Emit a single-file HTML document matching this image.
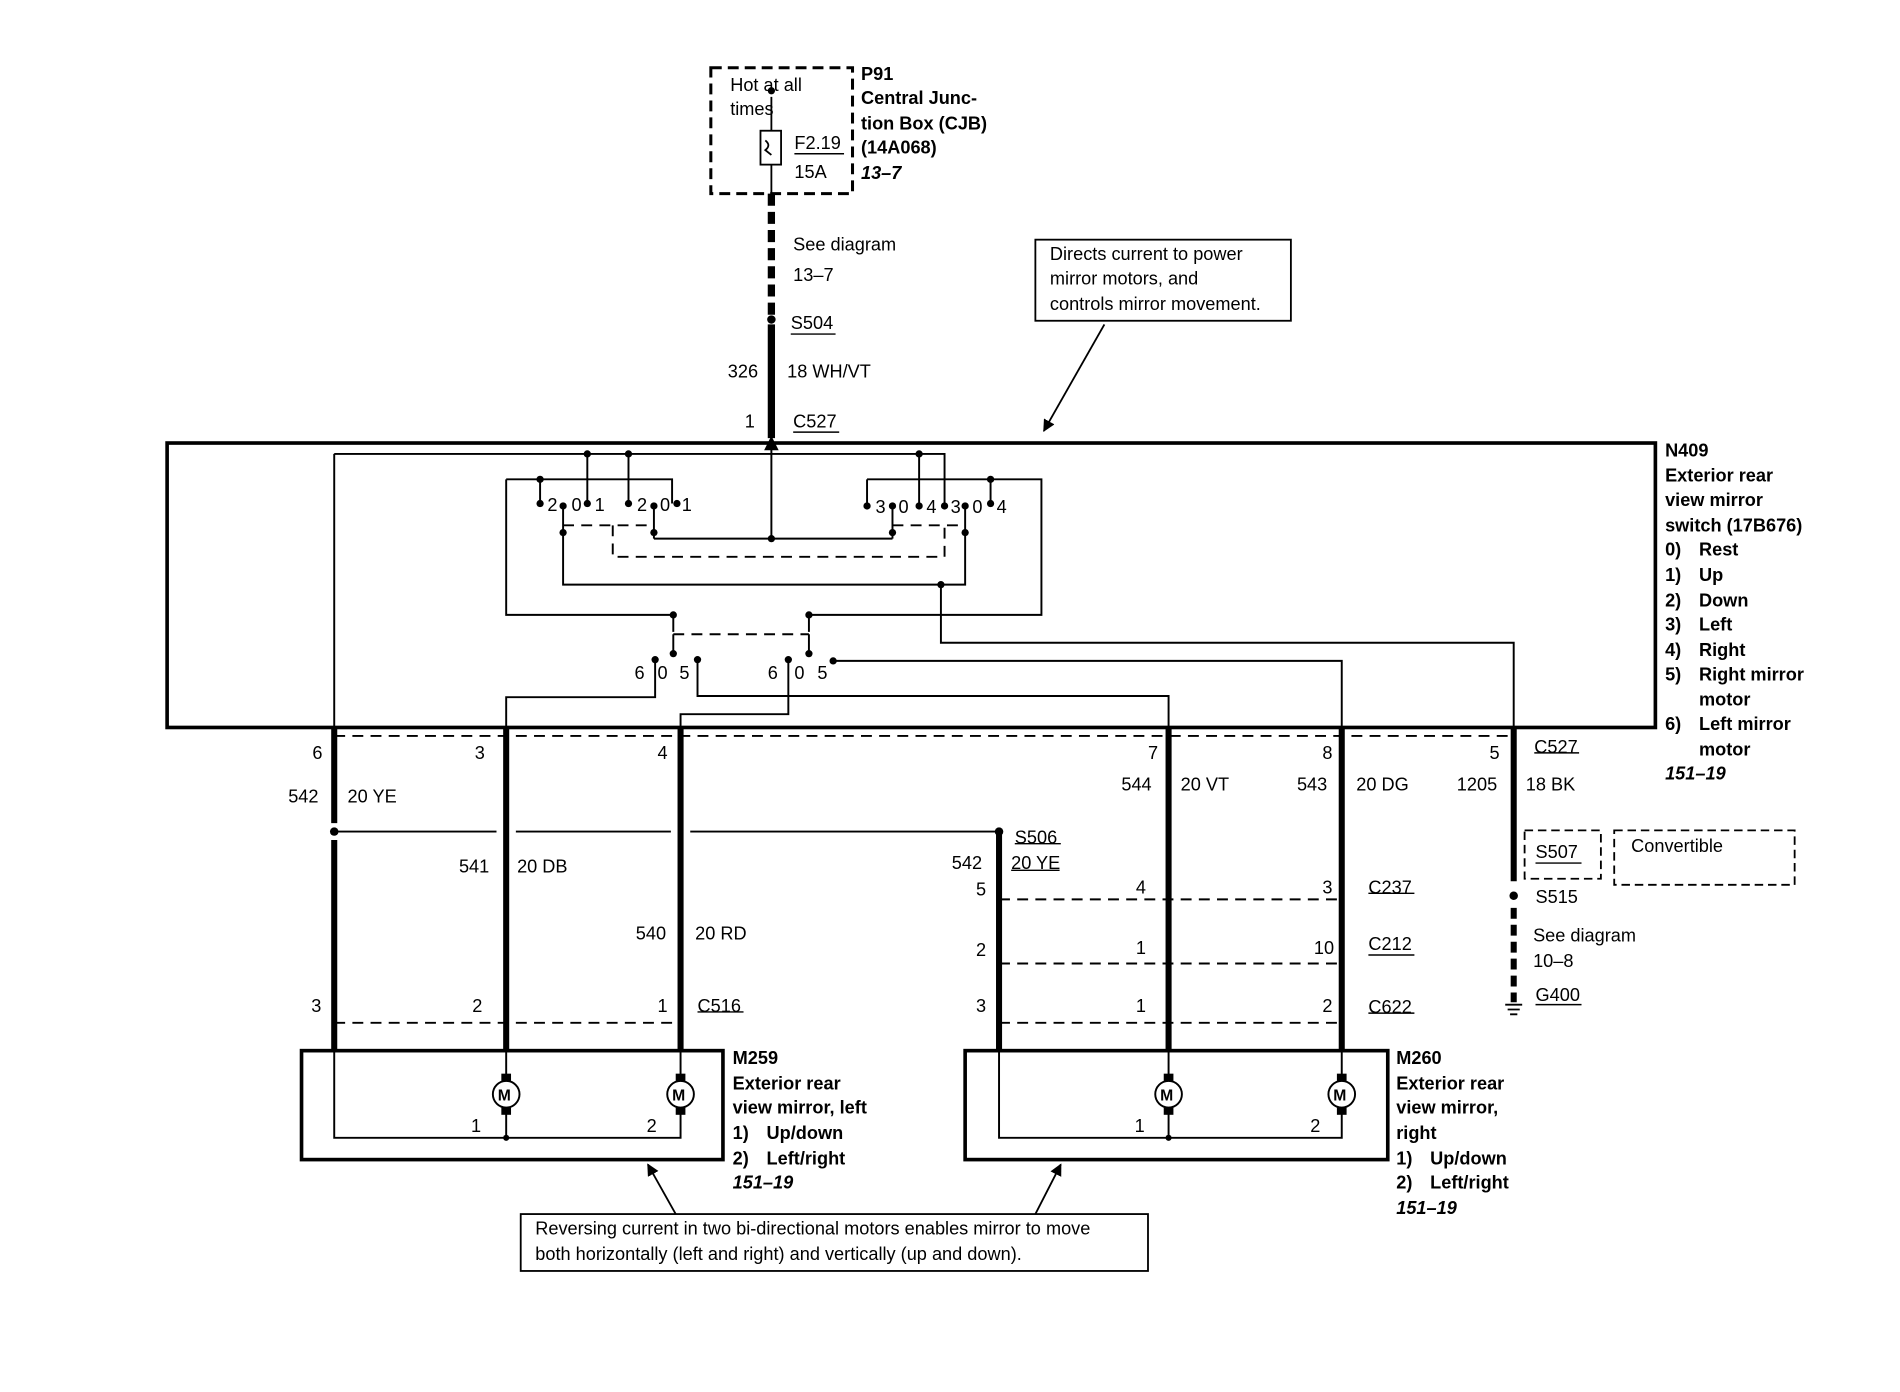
<!DOCTYPE html>
<html><head><meta charset="utf-8"><style>
html,body{margin:0;padding:0;background:#fff;}
svg{display:block;}
text{font-family:"Liberation Sans",Arial,sans-serif;font-size:15px;fill:#000;}
.b{font-weight:bold;}
.i{font-style:italic;font-weight:bold;}
</style></head><body>
<svg width="1900" height="1392" viewBox="0 0 1569 1150" preserveAspectRatio="none" xmlns="http://www.w3.org/2000/svg">
<defs>
<marker id="ah" markerWidth="10" markerHeight="10" refX="9" refY="5" orient="auto" markerUnits="userSpaceOnUse"><path d="M0,0 L10,5 L0,10 Z" fill="#000"/></marker>
</defs>
<g stroke="#000" fill="none">
<rect x="587" y="56" width="117" height="104" stroke-width="2.5" stroke-dasharray="9,5"/>
<rect x="628" y="108" width="17" height="28" stroke-width="1.5"/>
<path d="M637,80 V108 M637,136 V160 M632,116 q5,4 0,8 q5,4 5,4" stroke-width="1.5"/>
<path d="M637,160 V262" stroke-width="6" stroke-dasharray="10,5"/>
<path d="M637,268 V362" stroke-width="6"/>
<rect x="855" y="198" width="211" height="67" stroke-width="1.5"/>
<line x1="912" y1="268" x2="862" y2="356" stroke-width="1.5" marker-end="url(#ah)"/>
<rect x="138" y="366" width="1229" height="235" stroke-width="3"/>
<g stroke-width="1.6">
<path d="M276,375 H780 V418"/>
<path d="M485,375 V416 M519,375 V416 M759,375 V416"/>
<path d="M418,396 H555 V416 M446,396 V416 M418,396 V508 H556 V522"/>
<path d="M716,396 H860 V508 H668 V522 M716,396 V416 M818,396 V416"/>
<path d="M637,366 V445 M540,445 H737 M540,420 V445 M737,420 V445"/>
<path d="M465,420 V483 H797 V420"/>
<path d="M777,483 V531 H1250 V601"/>
<path d="M556,524 V540 M668,524 V540"/>
<path d="M541,545 V576 H418 V601"/>
<path d="M576,545 V575 H965 V601"/>
<path d="M651,545 V590 H562 V601"/>
<path d="M688,546 H1108 V601"/>
<path d="M276,375 V601"/>
</g>
<g stroke-width="1.6" stroke-dasharray="9,6">
<path d="M465,434 H540 M506,434 V460 H780 V434 M737,434 H797"/>
<path d="M556,524 H668"/>
<path d="M276,608 H1250"/>
<path d="M825,743 H1108 M825,796 H1108 M825,845 H1108 M276,845 H562"/>
</g>
<g stroke-width="5">
<path d="M276,601 V680 M276,694 V845 M418,601 V868 M562,601 V868 M965,601 V868 M1108,601 V868 M825,687 V868 M276,845 V868 M1250,601 V728"/>
<path d="M1250,750 V828" stroke-dasharray="9,5"/>
</g>
<path d="M276,687 H410 M426,687 H554 M570,687 H825" stroke-width="1.6"/>
<path d="M1243,830 H1257 M1245,834 H1255 M1247,838 H1253" stroke-width="1.5"/>
<rect x="249" y="868" width="348" height="90" stroke-width="3"/>
<rect x="797" y="868" width="349" height="90" stroke-width="3"/>
<g stroke-width="1.6">
<path d="M276,868 V940 H562 V916 M418,868 V893 M418,916 V940 M562,868 V893"/>
<path d="M825,868 V940 H1108 V916 M965,868 V893 M965,916 V940 M1108,868 V893"/>
<circle cx="418" cy="904" r="11"/><circle cx="562" cy="904" r="11"/>
<circle cx="965" cy="904" r="11"/><circle cx="1108" cy="904" r="11"/>
</g>
<rect x="430" y="1003" width="518" height="47" stroke-width="1.5"/>
<line x1="558" y1="1003" x2="535" y2="962" stroke-width="1.5" marker-end="url(#ah)"/>
<line x1="855" y1="1003" x2="876" y2="962" stroke-width="1.5" marker-end="url(#ah)"/>
<rect x="1259" y="686" width="63" height="40" stroke-width="1.5" stroke-dasharray="7,4"/>
<rect x="1333" y="686" width="149" height="45" stroke-width="1.5" stroke-dasharray="7,4"/>
<g stroke-width="1.2">
<path d="M656,127 H697 M653,276 H690 M655,357 H693 M1267,622 H1304 M838,697 H876 M835,719 H875 M1268,713 H1306 M1268,830 H1306 M576,836 H614 M1130,738 H1168 M1130,789 H1168 M1130,837 H1168"/>
</g>
</g>
<g fill="#000">
<rect x="414" y="887" width="8" height="6"/><rect x="414" y="915" width="8" height="6"/>
<rect x="558" y="887" width="8" height="6"/><rect x="558" y="915" width="8" height="6"/>
<rect x="961" y="887" width="8" height="6"/><rect x="961" y="915" width="8" height="6"/>
<rect x="1104" y="887" width="8" height="6"/><rect x="1104" y="915" width="8" height="6"/>
<circle cx="637" cy="75" r="3"/><circle cx="637" cy="264" r="3.5"/>
<circle cx="485" cy="375" r="3"/><circle cx="519" cy="375" r="3"/><circle cx="759" cy="375" r="3"/>
<circle cx="446" cy="396" r="3"/><circle cx="818" cy="396" r="3"/>
<circle cx="446" cy="416" r="3"/><circle cx="465" cy="418" r="3"/><circle cx="485" cy="416" r="3"/><circle cx="519" cy="416" r="3"/><circle cx="540" cy="418" r="3"/><circle cx="559" cy="416" r="3"/>
<circle cx="716" cy="418" r="3"/><circle cx="737" cy="418" r="3"/><circle cx="759" cy="418" r="3"/><circle cx="780" cy="418" r="3"/><circle cx="797" cy="418" r="3"/><circle cx="818" cy="416" r="3"/>
<circle cx="465" cy="440" r="3"/><circle cx="540" cy="440" r="3"/><circle cx="637" cy="445" r="3"/><circle cx="737" cy="440" r="3"/><circle cx="797" cy="440" r="3"/>
<circle cx="777" cy="483" r="3"/>
<circle cx="556" cy="508" r="3"/><circle cx="668" cy="508" r="3"/>
<circle cx="556" cy="540" r="3"/><circle cx="668" cy="540" r="3"/>
<circle cx="541" cy="545" r="3"/><circle cx="576" cy="545" r="3"/><circle cx="651" cy="545" r="3"/><circle cx="688" cy="546" r="3"/>
<circle cx="276" cy="687" r="3.5"/><circle cx="825" cy="687" r="3.5"/>
<circle cx="1250" cy="740" r="3.5"/>
<circle cx="418" cy="940" r="2.5"/><circle cx="965" cy="940" r="2.5"/>
<path d="M631,372 L637,360 L643,372 Z"/>
</g>
<text x="603" y="75">Hot at all</text><text x="603" y="95">times</text>
<text x="656" y="123">F2.19</text><text x="656" y="147">15A</text>
<text class="b" x="711" y="66">P91</text><text class="b" x="711" y="86">Central Junc-</text>
<text class="b" x="711" y="107">tion Box (CJB)</text><text class="b" x="711" y="127">(14A068)</text>
<text class="i" x="711" y="148">13–7</text>
<text x="655" y="207">See diagram</text><text x="655" y="232">13–7</text>
<text x="653" y="272">S504</text>
<text x="601" y="312">326</text><text x="650" y="312">18 WH/VT</text>
<text x="615" y="353">1</text><text x="655" y="353">C527</text>
<text x="867" y="215">Directs current to power</text>
<text x="867" y="235">mirror motors, and</text>
<text x="867" y="256">controls mirror movement.</text>
<text class="b" x="1375" y="377">N409</text>
<text class="b" x="1375" y="398">Exterior rear</text>
<text class="b" x="1375" y="418">view mirror</text>
<text class="b" x="1375" y="439">switch (17B676)</text>
<text class="b" x="1375" y="459">0)</text><text class="b" x="1403" y="459">Rest</text>
<text class="b" x="1375" y="480">1)</text><text class="b" x="1403" y="480">Up</text>
<text class="b" x="1375" y="501">2)</text><text class="b" x="1403" y="501">Down</text>
<text class="b" x="1375" y="521">3)</text><text class="b" x="1403" y="521">Left</text>
<text class="b" x="1375" y="542">4)</text><text class="b" x="1403" y="542">Right</text>
<text class="b" x="1375" y="562">5)</text><text class="b" x="1403" y="562">Right mirror</text>
<text class="b" x="1403" y="583">motor</text>
<text class="b" x="1375" y="603">6)</text><text class="b" x="1403" y="603">Left mirror</text>
<text class="b" x="1403" y="624">motor</text>
<text class="i" x="1375" y="644">151–19</text>
<text x="452" y="422">2</text><text x="472" y="422">0</text><text x="491" y="422">1</text>
<text x="526" y="422">2</text><text x="545" y="422">0</text><text x="563" y="422">1</text>
<text x="723" y="424">3</text><text x="742" y="424">0</text><text x="765" y="424">4</text>
<text x="785" y="424">3</text><text x="803" y="424">0</text><text x="823" y="424">4</text>
<text x="524" y="561">6</text><text x="543" y="561">0</text><text x="561" y="561">5</text>
<text x="634" y="561">6</text><text x="656" y="561">0</text><text x="675" y="561">5</text>
<text x="258" y="627">6</text><text x="392" y="627">3</text><text x="543" y="627">4</text>
<text x="948" y="627">7</text><text x="1092" y="627">8</text><text x="1230" y="627">5</text>
<text x="1267" y="622">C527</text>
<text x="238" y="663">542</text><text x="287" y="663">20 YE</text>
<text x="926" y="653">544</text><text x="975" y="653">20 VT</text>
<text x="1071" y="653">543</text><text x="1120" y="653">20 DG</text>
<text x="1203" y="653">1205</text><text x="1260" y="653">18 BK</text>
<text x="379" y="721">541</text><text x="427" y="721">20 DB</text>
<text x="525" y="776">540</text><text x="574" y="776">20 RD</text>
<text x="838" y="697">S506</text>
<text x="786" y="718">542</text><text x="835" y="718">20 YE</text>
<text x="1268" y="709">S507</text><text x="1347" y="704">Convertible</text>
<text x="1268" y="746">S515</text>
<text x="1266" y="778">See diagram</text><text x="1266" y="799">10–8</text>
<text x="1268" y="827">G400</text>
<text x="806" y="740">5</text><text x="938" y="738">4</text><text x="1092" y="738">3</text><text x="1130" y="738">C237</text>
<text x="806" y="790">2</text><text x="938" y="788">1</text><text x="1085" y="788">10</text><text x="1130" y="785">C212</text>
<text x="806" y="836">3</text><text x="938" y="836">1</text><text x="1092" y="836">2</text><text x="1130" y="837">C622</text>
<text x="257" y="836">3</text><text x="390" y="836">2</text><text x="543" y="836">1</text><text x="576" y="836">C516</text>
<text x="411" y="909" style="font-size:13px;font-weight:bold">M</text><text x="555" y="909" style="font-size:13px;font-weight:bold">M</text>
<text x="958" y="909" style="font-size:13px;font-weight:bold">M</text><text x="1101" y="909" style="font-size:13px;font-weight:bold">M</text>
<text x="389" y="935">1</text><text x="534" y="935">2</text>
<text x="937" y="935">1</text><text x="1082" y="935">2</text>
<text class="b" x="605" y="879">M259</text><text class="b" x="605" y="900">Exterior rear</text>
<text class="b" x="605" y="920">view mirror, left</text>
<text class="b" x="605" y="941">1)</text><text class="b" x="633" y="941">Up/down</text>
<text class="b" x="605" y="962">2)</text><text class="b" x="633" y="962">Left/right</text>
<text class="i" x="605" y="982">151–19</text>
<text class="b" x="1153" y="879">M260</text><text class="b" x="1153" y="900">Exterior rear</text>
<text class="b" x="1153" y="920">view mirror,</text><text class="b" x="1153" y="941">right</text>
<text class="b" x="1153" y="962">1)</text><text class="b" x="1181" y="962">Up/down</text>
<text class="b" x="1153" y="982">2)</text><text class="b" x="1181" y="982">Left/right</text>
<text class="i" x="1153" y="1003">151–19</text>
<text x="442" y="1020">Reversing current in two bi-directional motors enables mirror to move</text>
<text x="442" y="1041">both horizontally (left and right) and vertically (up and down).</text>
</svg>
</body></html>
